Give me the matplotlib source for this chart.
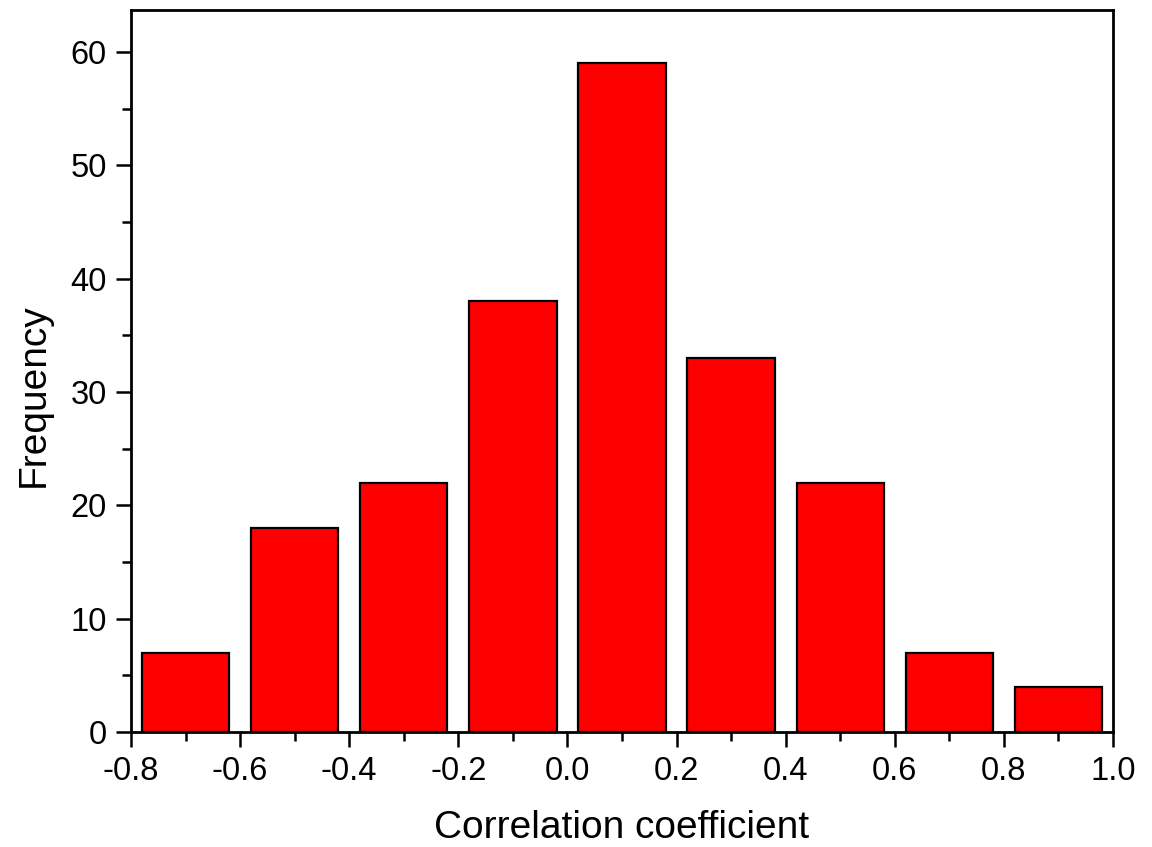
import matplotlib
matplotlib.use("Agg")
import matplotlib.pyplot as plt
from matplotlib.ticker import MultipleLocator

plt.rcParams['font.family'] = ['Liberation Sans', 'DejaVu Sans']

bin_centers = [-0.7, -0.5, -0.3, -0.1, 0.1, 0.3, 0.5, 0.7, 0.9]
frequency = [7, 18, 22, 38, 59, 33, 22, 7, 4]
x_ticks = [-0.8, -0.6, -0.4, -0.2, 0.0, 0.2, 0.4, 0.6, 0.8, 1.0]
y_ticks = [0, 10, 20, 30, 40, 50, 60]

fig = plt.figure(figsize=(11.52, 8.47), dpi=100)
ax = fig.add_axes([0.1137, 0.1358, 0.8524, 0.8524])

ax.bar(bin_centers, frequency, width=0.16, color='#ff0000', edgecolor='black', linewidth=1.6)

ax.set_xlim(-0.8, 1.0)
ax.set_ylim(0, 63.7)
ax.set_xticks(x_ticks)
ax.set_xticklabels([f"{v:.1f}" for v in x_ticks])
ax.set_yticks(y_ticks)
ax.xaxis.set_minor_locator(MultipleLocator(0.1))
ax.yaxis.set_minor_locator(MultipleLocator(5))
ax.tick_params(which='major', direction='out', length=11, width=1.8, labelsize=23.5, pad=6.5)
ax.tick_params(which='minor', direction='out', length=6.5, width=1.8)
for s in ax.spines.values():
    s.set_linewidth(2)

ax.set_xlabel('Correlation coefficient', fontsize=28, va='center')
ax.set_ylabel('Frequency', fontsize=28, va='center')
ax.xaxis.set_label_coords(0.5, -0.133)
ax.yaxis.set_label_coords(-0.0988, 0.467)

fig.savefig('out.png', dpi=100)
